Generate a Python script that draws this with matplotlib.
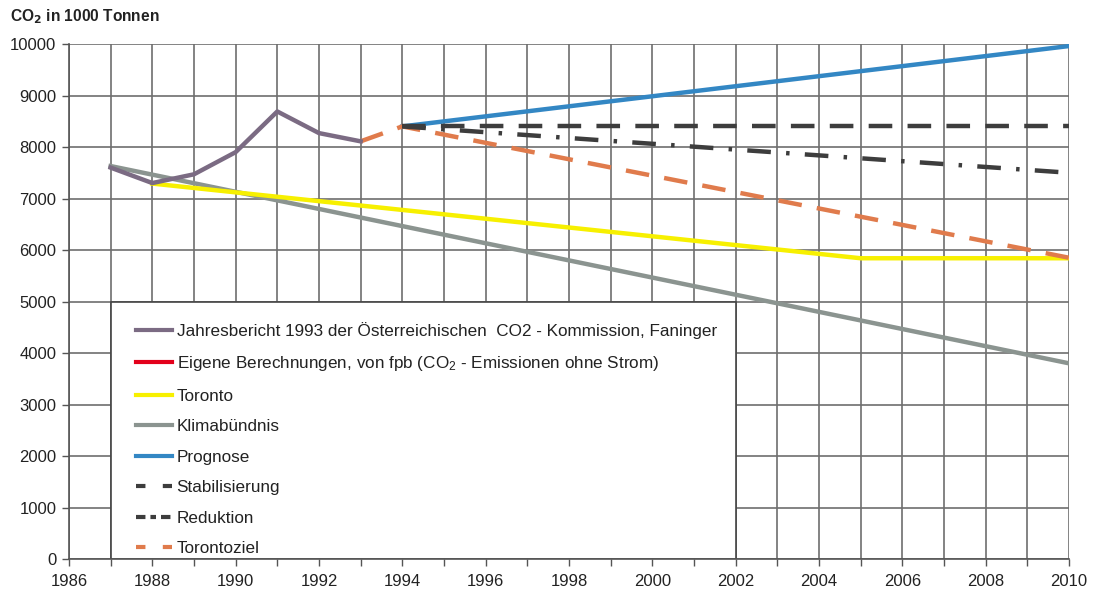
import matplotlib.pyplot as plt
from matplotlib.lines import Line2D
from matplotlib.patches import Rectangle
from matplotlib.ticker import MultipleLocator

plt.rcParams['font.family'] = ['Liberation Sans', 'DejaVu Sans']
plt.rcParams['mathtext.default'] = 'regular'
plt.rcParams['lines.scale_dashes'] = False

# --- DATEN ---
jahre_bericht = [1987, 1988, 1989, 1990, 1991, 1992, 1993]
werte_bericht = [7600, 7300, 7470, 7900, 8690, 8270, 8110]

jahre_toronto = [1988, 2005, 2010]
werte_toronto = [7290, 5840, 5840]

jahre_klima = [1987, 2010]
werte_klima = [7630, 3800]

jahre_prognose = [1994, 2010]
werte_prognose = [8400, 9960]

jahre_stabil = [1994, 2010]
werte_stabil = [8400, 8400]

jahre_reduktion = [1994, 2010]
werte_reduktion = [8400, 7500]

jahre_torontoziel = [1993, 1994, 2010]
werte_torontoziel = [8110, 8400, 5850]

# --- FARBEN ---
c_lila = '#7b6b83'
c_rot = '#e3001b'
c_gelb = '#f7f000'
c_grau = '#8b9490'
c_blau = '#3387c4'
c_dunkel = '#3d3d3d'
c_orange = '#e07b4c'

fig = plt.figure(figsize=(10.93, 5.93), dpi=100, facecolor='white')
ax = fig.add_axes([0.0631, 0.0573, 0.9149, 0.8685])

ax.set_xlim(1986, 2010)
ax.set_ylim(0, 10000)
ax.xaxis.set_major_locator(MultipleLocator(2))
ax.xaxis.set_minor_locator(MultipleLocator(1))
ax.yaxis.set_major_locator(MultipleLocator(1000))
ax.tick_params(axis='both', which='both', direction='out', length=5,
               width=1, color='#555555', labelsize=12, labelcolor='#222222')
ax.tick_params(axis='y', pad=4)
ax.tick_params(axis='x', pad=6)

ax.set_axisbelow(True)
ax.grid(which='both', color='#6e6e6e', linewidth=1.2)
for s in ['top', 'right']:
    ax.spines[s].set_visible(False)
for s in ['left', 'bottom']:
    ax.spines[s].set_color('#555555')
    ax.spines[s].set_linewidth(1.2)

lw = 3.2
ax.plot(jahre_klima, werte_klima, color=c_grau, lw=lw, zorder=3)
ax.plot(jahre_toronto, werte_toronto, color=c_gelb, lw=lw, zorder=3)
ax.plot(jahre_prognose, werte_prognose, color=c_blau, lw=lw, zorder=4)
ax.plot(jahre_torontoziel, werte_torontoziel, color=c_orange, lw=lw, zorder=4,
        dashes=(17, 11), dash_capstyle='butt')
ax.plot(jahre_reduktion, werte_reduktion, color=c_dunkel, lw=lw, zorder=5,
        dashes=(17, 11, 2.5, 11), dash_capstyle='butt')
ax.plot(jahre_stabil, werte_stabil, color=c_dunkel, lw=lw, zorder=5,
        dashes=(17, 11), dash_capstyle='butt')
ax.plot(jahre_bericht, werte_bericht, color=c_lila, lw=lw, zorder=6)

# Legendenkasten ueber dem Gitter
ax.add_patch(Rectangle((1987, 0), 15, 5000, facecolor='white',
                       edgecolor='#444444', lw=1.2, zorder=2))

# eigene Legendensymbole mit kurzen Strichmustern
lw_leg = 3.0
eintraege = [
    (Line2D([], [], color=c_lila, lw=lw_leg),
     'Jahresbericht 1993 der Österreichischen  CO2 - Kommission, Faninger'),
    (Line2D([], [], color=c_rot, lw=lw_leg),
     'Eigene Berechnungen, von fpb (CO$_2$ - Emissionen ohne Strom)'),
    (Line2D([], [], color=c_gelb, lw=lw_leg), 'Toronto'),
    (Line2D([], [], color=c_grau, lw=lw_leg), 'Klimabündnis'),
    (Line2D([], [], color=c_blau, lw=lw_leg), 'Prognose'),
    (Line2D([], [], color=c_dunkel, lw=lw_leg, dashes=(6.8, 12.5),
            dash_capstyle='butt'), 'Stabilisierung'),
    (Line2D([], [], color=c_dunkel, lw=lw_leg, dashes=(6.8, 3.6, 4, 3.6),
            dash_capstyle='butt'), 'Reduktion'),
    (Line2D([], [], color=c_orange, lw=lw_leg, dashes=(6.8, 12.5),
            dash_capstyle='butt'), 'Torontoziel'),
]
leg = ax.legend([h for h, _ in eintraege], [l for _, l in eintraege],
                loc='upper left', bbox_to_anchor=(1987.62, 4610),
                bbox_transform=ax.transData, frameon=False, fontsize=12.3,
                handlelength=2.1, handletextpad=0.25, labelspacing=0.91,
                borderaxespad=0, borderpad=0)
for t in leg.get_texts():
    t.set_color('#222222')

fig.text(0.009, 0.988, 'CO$_\\mathbf{2}$ in 1000 Tonnen', fontsize=11.2,
         fontweight='bold', color='#222222', ha='left', va='top')

fig.savefig('out.png', dpi=100)
